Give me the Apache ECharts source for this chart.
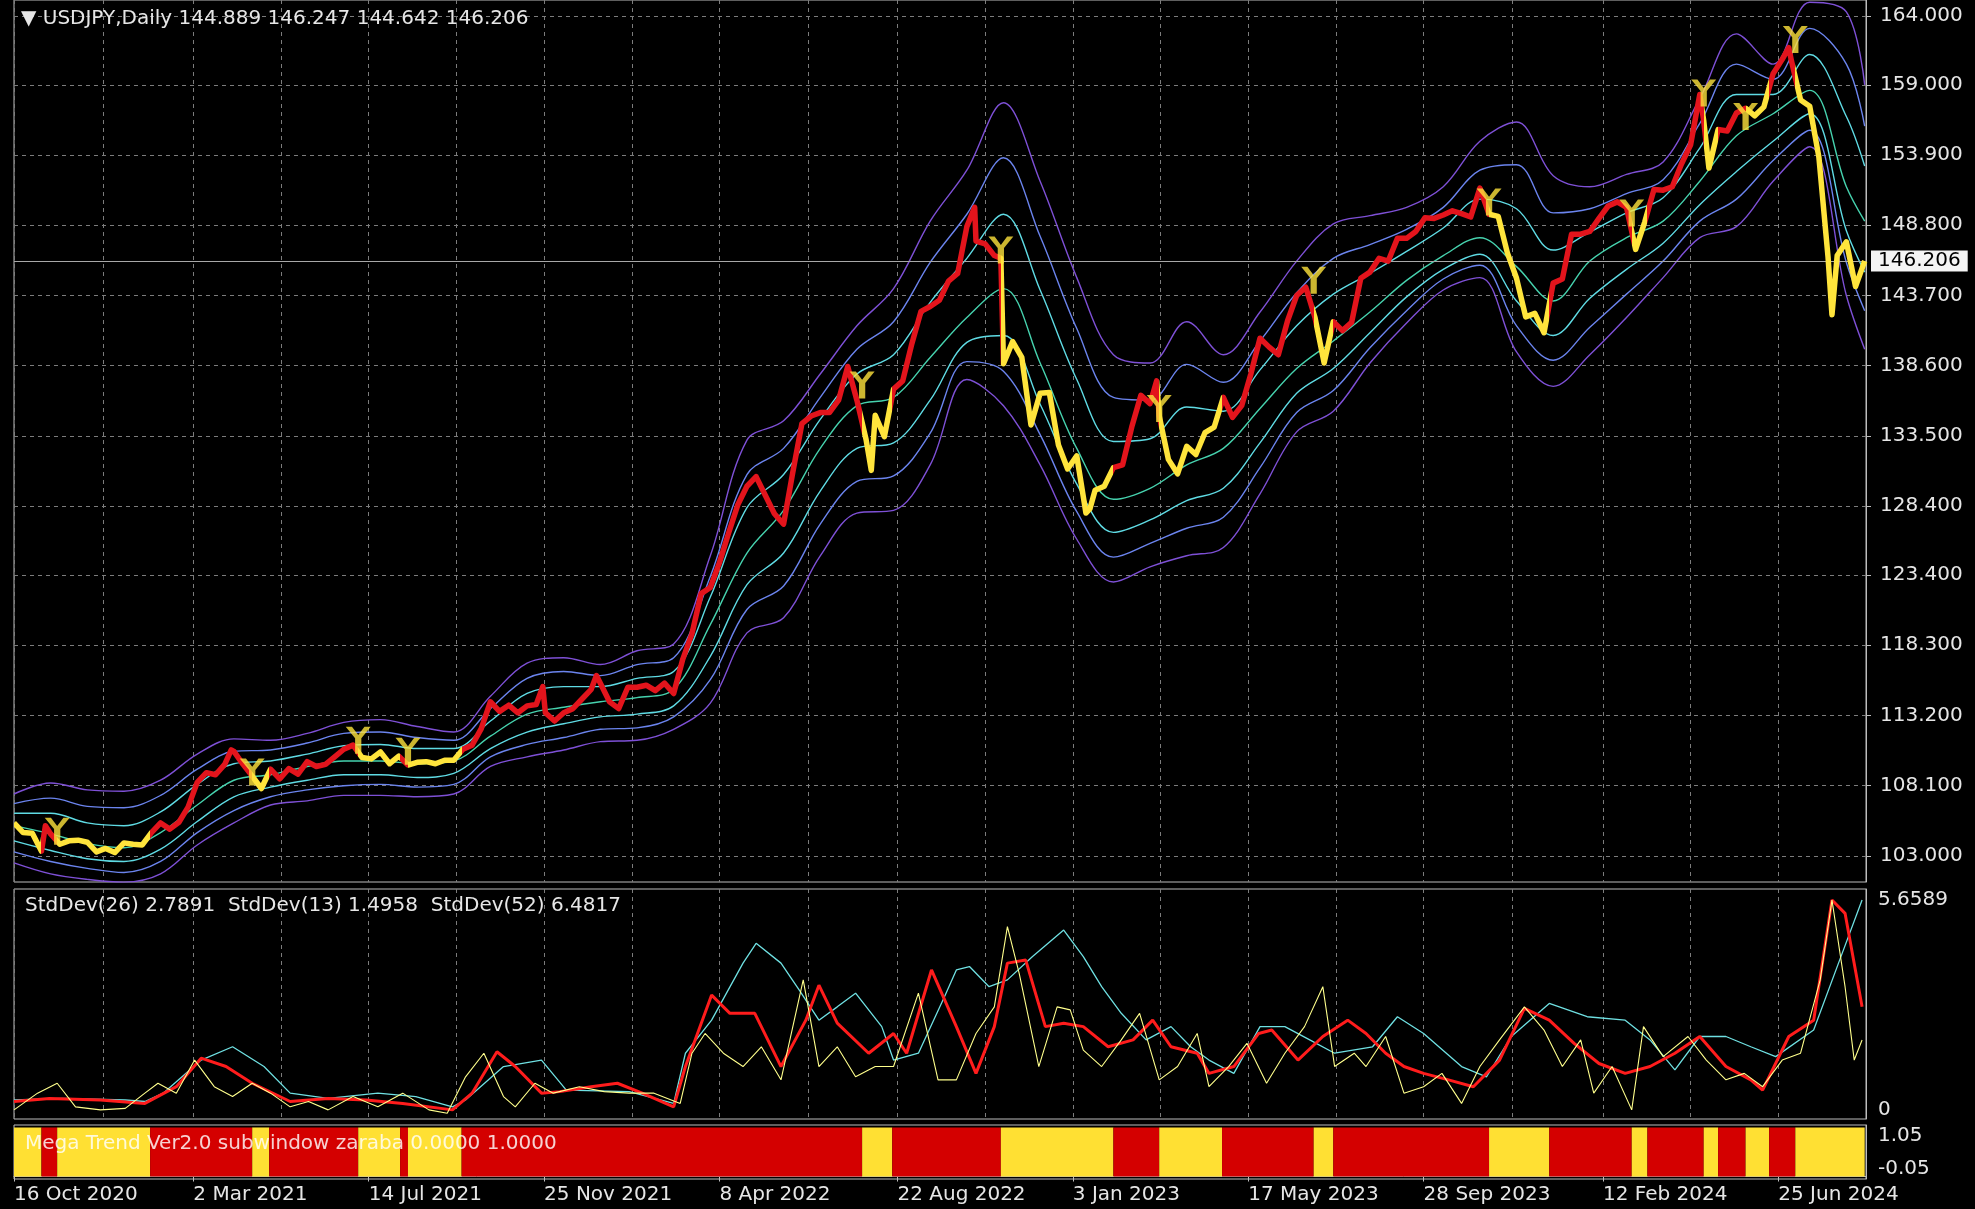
<!DOCTYPE html>
<html><head><meta charset="utf-8">
<script src="https://cdn.jsdelivr.net/npm/echarts@6/dist/echarts.min.js"></script>
<style>html,body{margin:0;padding:0;background:#000;}#c{width:1975px;height:1209px;}</style>
</head><body><div id="c"></div><script>
// ---------- header / labels ----------
const symbolName = 'USDJPY,Daily';
const ohlc = [144.889, 146.247, 144.642, 146.206];
const stdLegend = ['StdDev(26) 2.7891', 'StdDev(13) 1.4958', 'StdDev(52) 6.4817'];
const megaLegend = 'Mega Trend Ver2.0 subwindow zaraba 0.0000 1.0000';
const priceTicks = [103.0, 108.1, 113.2, 118.3, 123.4, 128.4, 133.5, 138.6, 143.7, 148.8, 153.9, 159.0, 164.0];
const stdTicks = [0, 5.6589];
const trendTicks = [1.05, -0.05];
const dateLabels = ['2020-10-16','2021-03-02','2021-07-14','2021-11-25','2022-04-08','2022-08-22','2023-01-03','2023-05-17','2023-09-28','2024-02-12','2024-06-25'];
const gridMidDates = ['2020-12-23','2021-05-08','2021-09-19','2022-01-31','2022-06-15','2022-10-28','2023-03-11','2023-07-23','2023-12-05','2024-04-19'];

// ---------- trend segments (1 = up / red, 0 = down / yellow) ----------
const trendSegments = [
 ['2020-10-16','2020-11-06',0],['2020-11-06','2020-11-18',1],['2020-11-18','2021-01-28',0],
 ['2021-01-28','2021-04-16',1],['2021-04-16','2021-04-29',0],['2021-04-29','2021-07-06',1],
 ['2021-07-06','2021-08-07',0],['2021-08-07','2021-08-13',1],['2021-08-13','2021-09-23',0],
 ['2021-09-23','2022-07-26',1],['2022-07-26','2022-08-18',0],['2022-08-18','2022-11-09',1],
 ['2022-11-09','2023-02-03',0],['2023-02-03','2023-03-10',1],['2023-03-10','2023-04-27',0],
 ['2023-04-27','2023-07-06',1],['2023-07-06','2023-07-21',0],['2023-07-21','2023-11-17',1],
 ['2023-11-17','2024-01-02',0],['2024-01-02','2024-03-05',1],['2024-03-05','2024-03-17',0],
 ['2024-03-17','2024-04-29',1],['2024-04-29','2024-05-10',0],['2024-05-10','2024-05-31',1],
 ['2024-05-31','2024-06-18',0],['2024-06-18','2024-07-08',1],['2024-07-08','2024-08-30',0]
];

// ---------- price (weekly closes + a few key days) ----------
const priceData = [
 ['2020-10-16',105.40],['2020-10-23',104.70],['2020-10-30',104.65],['2020-11-06',103.35],['2020-11-09',105.20],['2020-11-13',104.60],
 ['2020-11-20',103.85],['2020-11-27',104.10],['2020-12-04',104.15],['2020-12-11',104.00],['2020-12-18',103.30],['2020-12-25',103.55],
 ['2021-01-01',103.25],['2021-01-08',103.95],['2021-01-15',103.85],['2021-01-22',103.80],['2021-01-29',104.70],['2021-02-05',105.40],
 ['2021-02-12',104.95],['2021-02-19',105.45],['2021-02-26',106.55],['2021-03-05',108.35],['2021-03-12',109.05],['2021-03-19',108.90],
 ['2021-03-26',109.65],['2021-03-31',110.70],['2021-04-02',110.60],['2021-04-09',109.65],['2021-04-16',108.80],['2021-04-23',107.90],
 ['2021-04-30',109.30],['2021-05-07',108.60],['2021-05-14',109.35],['2021-05-21',108.95],['2021-05-28',109.85],['2021-06-04',109.50],
 ['2021-06-11',109.65],['2021-06-18',110.20],['2021-06-25',110.75],['2021-07-02',111.05],['2021-07-09',110.15],['2021-07-16',110.05],
 ['2021-07-23',110.55],['2021-07-30',109.70],['2021-08-06',110.25],['2021-08-13',109.60],['2021-08-20',109.80],['2021-08-27',109.85],
 ['2021-09-03',109.70],['2021-09-10',109.95],['2021-09-17',109.95],['2021-09-24',110.75],['2021-10-01',111.05],['2021-10-08',112.25],
 ['2021-10-15',114.20],['2021-10-22',113.50],['2021-10-29',113.95],['2021-11-05',113.40],['2021-11-12',113.90],['2021-11-19',114.00],
 ['2021-11-24',115.30],['2021-11-26',113.40],['2021-12-03',112.80],['2021-12-10',113.40],['2021-12-17',113.70],['2021-12-24',114.40],
 ['2021-12-31',115.10],['2022-01-04',116.10],['2022-01-07',115.55],['2022-01-14',114.20],['2022-01-21',113.70],['2022-01-28',115.25],
 ['2022-02-04',115.25],['2022-02-11',115.40],['2022-02-18',115.00],['2022-02-25',115.55],['2022-03-04',114.80],['2022-03-11',117.30],
 ['2022-03-18',119.15],['2022-03-25',122.05],['2022-04-01',122.50],['2022-04-08',124.30],['2022-04-15',126.45],['2022-04-22',128.50],
 ['2022-04-29',129.85],['2022-05-06',130.55],['2022-05-13',129.20],['2022-05-20',127.85],['2022-05-27',127.10],['2022-06-03',130.85],
 ['2022-06-10',134.40],['2022-06-17',134.95],['2022-06-24',135.20],['2022-07-01',135.20],['2022-07-08',136.10],['2022-07-15',138.55],
 ['2022-07-22',136.10],['2022-07-29',133.25],['2022-08-02',131.00],['2022-08-05',135.00],['2022-08-12',133.45],['2022-08-19',136.90],
 ['2022-08-26',137.50],['2022-09-02',140.20],['2022-09-09',142.55],['2022-09-16',142.90],['2022-09-23',143.35],['2022-09-30',144.75],
 ['2022-10-07',145.30],['2022-10-14',148.70],['2022-10-20',150.10],['2022-10-21',147.65],['2022-10-28',147.45],['2022-11-04',146.60],
 ['2022-11-09',146.40],['2022-11-11',138.75],['2022-11-18',140.35],['2022-11-25',139.20],['2022-12-02',134.30],['2022-12-09',136.60],
 ['2022-12-16',136.65],['2022-12-23',132.85],['2022-12-30',131.10],['2023-01-06',132.05],['2023-01-13',127.90],['2023-01-16',128.20],
 ['2023-01-20',129.55],['2023-01-27',129.85],['2023-02-03',131.20],['2023-02-10',131.40],['2023-02-17',134.15],['2023-02-24',136.45],
 ['2023-03-03',135.85],['2023-03-08',137.50],['2023-03-10',134.95],['2023-03-17',131.80],['2023-03-24',130.75],['2023-03-31',132.75],
 ['2023-04-07',132.15],['2023-04-14',133.75],['2023-04-21',134.15],['2023-04-28',136.30],['2023-05-05',134.85],['2023-05-12',135.70],
 ['2023-05-19',138.00],['2023-05-26',140.60],['2023-06-02',139.95],['2023-06-09',139.40],['2023-06-16',141.85],['2023-06-23',143.70],
 ['2023-06-30',144.30],['2023-07-07',142.10],['2023-07-14',138.80],['2023-07-21',141.80],['2023-07-28',141.15],['2023-08-04',141.75],
 ['2023-08-11',144.95],['2023-08-18',145.40],['2023-08-25',146.40],['2023-09-01',146.20],['2023-09-08',147.85],['2023-09-15',147.85],
 ['2023-09-22',148.35],['2023-09-29',149.35],['2023-10-06',149.30],['2023-10-13',149.55],['2023-10-20',149.85],['2023-10-27',149.65],
 ['2023-11-03',149.40],['2023-11-10',151.50],['2023-11-17',149.60],['2023-11-24',149.45],['2023-12-01',146.80],['2023-12-08',144.95],
 ['2023-12-15',142.15],['2023-12-22',142.40],['2023-12-29',141.00],['2024-01-05',144.60],['2024-01-12',144.90],['2024-01-19',148.15],
 ['2024-01-26',148.15],['2024-02-02',148.35],['2024-02-09',149.30],['2024-02-16',150.20],['2024-02-23',150.50],['2024-03-01',150.10],
 ['2024-03-08',147.05],['2024-03-15',149.05],['2024-03-22',151.40],['2024-03-29',151.35],['2024-04-05',151.60],['2024-04-12',153.25],
 ['2024-04-19',154.65],['2024-04-26',158.30],['2024-04-29',156.40],['2024-05-03',152.95],['2024-05-10',155.75],['2024-05-17',155.65],
 ['2024-05-24',156.95],['2024-05-31',157.30],['2024-06-07',156.75],['2024-06-14',157.40],['2024-06-21',159.80],['2024-06-28',160.85],
 ['2024-07-03',161.70],['2024-07-05',160.75],['2024-07-12',157.90],['2024-07-19',157.45],['2024-07-26',153.75],['2024-08-02',146.50],
 ['2024-08-05',142.30],['2024-08-09',146.60],['2024-08-16',147.60],['2024-08-23',144.35],['2024-08-30',146.21]
];

// trend-change arrows [date, price]
const signalArrows = [
 ['2020-11-18',104.8],['2021-04-16',109.1],['2021-07-06',111.4],['2021-08-13',110.6],['2022-07-26',137.2],
 ['2022-11-09',147.0],['2023-03-10',135.5],['2023-07-06',144.8],['2023-11-17',150.5],['2024-03-05',149.7],
 ['2024-04-29',158.4],['2024-05-31',156.7],['2024-07-08',162.3]
];

// ---------- envelope bands (sampled every 4 weeks) ----------
const bandDates = ['2020-10-16','2020-11-13','2020-12-11','2021-01-08','2021-02-05','2021-03-05','2021-04-02','2021-04-30','2021-05-28','2021-06-25',
 '2021-07-23','2021-08-20','2021-09-17','2021-10-15','2021-11-12','2021-12-10','2022-01-07','2022-02-04','2022-03-04','2022-04-01',
 '2022-04-29','2022-05-27','2022-06-24','2022-07-22','2022-08-19','2022-09-16','2022-10-14','2022-11-11','2022-12-09','2023-01-06',
 '2023-02-03','2023-03-03','2023-03-31','2023-04-28','2023-05-26','2023-06-23','2023-07-21','2023-08-18','2023-09-15','2023-10-13',
 '2023-11-10','2023-12-08','2024-01-05','2024-02-02','2024-03-01','2024-03-29','2024-04-26','2024-05-24','2024-06-21','2024-07-19',
 '2024-08-16','2024-08-30'];
const bandUp3 = [107.5,108.3,107.8,107.7,108.5,110.4,111.5,111.4,111.9,112.7,112.9,112.4,112.0,114.6,117.0,117.4,116.9,117.9,118.4,124.8,
 133.2,134.6,138.0,141.5,144.2,149.1,152.8,157.7,152.0,145.0,139.4,138.8,141.8,139.4,142.5,146.2,148.9,149.5,150.1,151.6,
 154.9,156.3,152.4,151.6,152.5,153.4,158.0,162.7,160.5,165.0,164.3,159.0];
const bandUp2 = [106.8,107.2,106.6,106.5,107.4,109.3,110.6,110.7,111.2,111.9,112.0,111.6,111.4,113.7,115.9,116.4,116.1,116.9,117.4,123.3,
 130.7,132.6,136.3,139.8,141.8,146.1,149.6,153.7,148.0,141.3,136.3,136.1,138.7,137.4,140.4,143.9,146.4,147.4,148.5,150.1,
 152.8,153.2,149.7,150.0,151.1,152.1,156.2,160.5,159.4,163.1,160.5,156.0];
const bandUp1 = [106.1,106.1,105.4,105.2,106.2,108.2,109.7,109.9,110.4,111.0,111.1,110.8,110.8,112.8,114.8,115.3,115.3,115.9,116.4,121.8,
 128.3,130.7,134.7,138.0,139.4,143.2,146.4,149.6,144.1,137.6,133.1,133.3,135.6,135.3,138.3,141.5,143.8,145.3,146.9,148.6,
 150.7,150.0,147.0,148.3,149.7,150.8,154.4,158.3,158.3,161.2,156.7,153.1];
const bandMid = [105.2,104.6,103.9,103.6,104.7,106.7,108.5,108.9,109.5,109.9,109.9,109.7,109.9,111.7,113.3,113.8,114.2,114.5,115.1,119.8,
 125.0,128.1,132.6,135.7,136.3,139.2,142.1,144.2,138.8,132.6,128.9,129.7,131.4,132.6,135.5,138.4,140.4,142.5,144.8,146.6,
 147.9,145.8,143.3,146.2,147.9,149.1,152.0,155.3,156.9,158.6,151.6,149.1];
const bandLo1 = [104.1,103.4,102.8,102.6,103.5,105.5,107.3,108.0,108.5,108.9,108.9,108.7,109.0,110.8,112.0,112.6,113.1,113.3,113.9,117.5,
 122.7,125.0,129.5,132.6,133.0,136.1,140.3,140.8,135.8,130.0,126.5,127.4,128.8,129.7,133.0,136.6,138.4,141.0,143.6,145.6,
 146.7,143.3,140.8,143.5,145.6,147.5,150.3,152.7,154.9,156.9,148.4,145.4];
const bandLo2 = [103.3,102.6,102.1,101.8,102.6,104.7,106.3,107.3,107.8,108.1,108.2,108.0,108.2,110.2,111.1,111.6,112.2,112.3,113.1,115.8,
 120.9,122.6,127.1,130.2,130.6,133.7,138.9,138.2,133.6,128.0,124.7,125.7,126.8,127.6,131.2,135.2,136.8,139.9,142.6,144.9,
 145.9,141.5,139.0,141.4,143.8,146.2,149.1,150.7,153.5,155.7,146.1,142.6];
const bandLo3 = [102.5,101.7,101.3,101.1,101.7,103.8,105.4,106.7,107.0,107.4,107.4,107.3,107.5,109.5,110.2,110.7,111.3,111.4,112.2,114.1,
 119.2,120.3,124.8,127.9,128.1,131.4,137.6,135.7,131.4,126.0,122.9,124.0,124.8,125.4,129.3,133.8,135.3,138.8,141.7,144.1,
 145.0,139.6,137.1,139.4,142.1,145.0,147.9,148.7,152.0,154.5,143.7,139.8];

// ---------- standard deviations ----------
const std13 = [
 ['2020-10-16',0.14],['2020-11-03',0.58],['2020-11-18',0.84],['2020-12-02',0.22],['2020-12-21',0.14],['2021-01-09',0.18],['2021-01-24',0.58],
 ['2021-02-03',0.84],['2021-02-17',0.58],['2021-03-03',1.45],['2021-03-18',0.75],['2021-04-01',0.49],['2021-04-16',0.84],['2021-04-30',0.58],
 ['2021-05-15',0.22],['2021-05-29',0.36],['2021-06-13',0.14],['2021-07-02',0.49],['2021-07-21',0.22],['2021-08-09',0.58],['2021-08-29',0.14],
 ['2021-09-12',0.05],['2021-09-26',1.01],['2021-10-10',1.63],['2021-10-25',0.49],['2021-11-03',0.22],['2021-11-18',0.84],['2021-12-02',0.58],
 ['2021-12-22',0.75],['2022-01-10',0.62],['2022-01-29',0.58],['2022-02-17',0.58],['2022-03-09',0.31],['2022-03-18',1.63],['2022-03-28',2.15],
 ['2022-04-11',1.63],['2022-04-26',1.28],['2022-05-10',1.80],['2022-05-25',0.93],['2022-06-11',3.56],['2022-06-23',1.28],['2022-07-07',1.80],
 ['2022-07-21',1.01],['2022-08-05',1.28],['2022-08-19',1.28],['2022-09-07',3.21],['2022-09-22',0.93],['2022-10-06',0.93],['2022-10-21',2.15],
 ['2022-11-04',2.85],['2022-11-14',4.96],['2022-11-23',3.73],['2022-12-08',1.28],['2022-12-22',2.85],['2023-01-01',2.77],['2023-01-11',1.71],
 ['2023-01-25',1.28],['2023-02-09',1.98],['2023-02-23',2.68],['2023-03-10',0.93],['2023-03-24',1.28],['2023-04-08',2.15],['2023-04-17',0.75],
 ['2023-05-02',1.28],['2023-05-16',1.89],['2023-05-31',0.84],['2023-06-14',1.63],['2023-06-29',2.33],['2023-07-13',3.38],['2023-07-22',1.28],
 ['2023-08-06',1.63],['2023-08-15',1.28],['2023-08-30',2.07],['2023-09-13',0.58],['2023-09-28',0.75],['2023-10-12',1.10],['2023-10-27',0.31],
 ['2023-11-10',1.28],['2023-11-25',1.98],['2023-12-14',2.85],['2023-12-29',2.24],['2024-01-12',1.28],['2024-01-26',1.98],['2024-02-05',0.58],
 ['2024-02-19',1.28],['2024-03-05',0.14],['2024-03-14',2.33],['2024-03-29',1.54],['2024-04-17',2.07],['2024-05-01',1.45],['2024-05-16',0.93],
 ['2024-05-30',1.10],['2024-06-13',0.75],['2024-06-28',1.45],['2024-07-12',1.63],['2024-07-27',3.56],['2024-08-05',5.66],['2024-08-15',3.38],
 ['2024-08-22',1.45],['2024-08-28',1.98]
];
const std26 = [
 ['2020-10-16',0.36],['2020-11-12',0.44],['2020-12-21',0.40],['2021-01-24',0.31],['2021-02-17',0.75],['2021-03-08',1.50],['2021-03-27',1.28],
 ['2021-04-16',0.84],['2021-05-15',0.36],['2021-06-13',0.44],['2021-07-12',0.40],['2021-08-09',0.31],['2021-09-16',0.14],['2021-10-01',0.58],
 ['2021-10-20',1.67],['2021-11-03',1.28],['2021-11-23',0.58],['2021-12-07',0.62],['2021-12-31',0.75],['2022-01-20',0.84],['2022-02-08',0.58],
 ['2022-03-04',0.22],['2022-03-13',1.28],['2022-04-02',3.16],['2022-04-16',2.68],['2022-05-05',2.68],['2022-05-25',1.28],['2022-06-13',2.50],
 ['2022-06-23',3.42],['2022-07-07',2.42],['2022-07-31',1.63],['2022-08-19',2.15],['2022-08-29',1.63],['2022-09-17',3.82],['2022-10-06',2.33],
 ['2022-10-21',1.10],['2022-11-04',2.33],['2022-11-14',4.00],['2022-11-28',4.08],['2022-12-13',2.33],['2022-12-27',2.42],['2023-01-11',2.33],
 ['2023-01-30',1.80],['2023-02-18',1.98],['2023-03-05',2.50],['2023-03-19',1.80],['2023-04-08',1.63],['2023-04-17',1.10],['2023-05-06',1.28],
 ['2023-05-25',2.15],['2023-06-04',2.24],['2023-06-24',1.45],['2023-07-13',2.07],['2023-08-01',2.50],['2023-08-15',2.15],['2023-08-30',1.63],
 ['2023-09-13',1.28],['2023-09-28',1.10],['2023-10-17',0.93],['2023-11-05',0.75],['2023-11-25',1.45],['2023-12-14',2.81],['2024-01-02',2.50],
 ['2024-01-21',1.89],['2024-02-09',1.36],['2024-02-29',1.10],['2024-03-19',1.28],['2024-04-07',1.63],['2024-04-26',2.07],['2024-05-16',1.28],
 ['2024-06-04',0.93],['2024-06-13',0.66],['2024-07-03',2.07],['2024-07-22',2.50],['2024-08-05',5.66],['2024-08-15',5.31],['2024-08-28',2.85]
];
const std52 = [
 ['2020-10-16',0.40],['2020-11-22',0.44],['2021-01-09',0.40],['2021-01-24',0.36],['2021-02-07',0.58],['2021-03-08',1.45],['2021-04-01',1.80],
 ['2021-04-25',1.28],['2021-05-15',0.58],['2021-06-13',0.44],['2021-07-21',0.58],['2021-08-19',0.49],['2021-09-16',0.22],['2021-09-26',0.40],
 ['2021-10-25',1.28],['2021-11-23',1.45],['2021-12-12',0.66],['2022-01-29',0.62],['2022-03-04',0.31],['2022-03-13',1.63],['2022-04-02',2.50],
 ['2022-04-26',4.00],['2022-05-06',4.52],['2022-05-25',4.00],['2022-06-08',3.29],['2022-06-23',2.50],['2022-07-07',2.85],['2022-07-21',3.21],
 ['2022-08-10',2.33],['2022-08-19',1.45],['2022-09-07',1.63],['2022-09-27',3.12],['2022-10-06',3.82],['2022-10-16',3.91],['2022-10-31',3.38],
 ['2022-11-14',3.56],['2022-12-03',4.17],['2022-12-27',4.87],['2023-01-11',4.17],['2023-01-25',3.38],['2023-02-09',2.68],['2023-02-28',1.98],
 ['2023-03-19',2.33],['2023-04-03',1.80],['2023-04-17',1.45],['2023-05-06',1.10],['2023-05-26',2.33],['2023-06-14',2.33],['2023-07-03',1.98],
 ['2023-07-22',1.63],['2023-08-20',1.80],['2023-09-08',2.59],['2023-09-28',2.15],['2023-10-27',1.28],['2023-11-15',1.01],['2023-12-04',2.07],
 ['2024-01-02',2.94],['2024-01-31',2.59],['2024-02-29',2.50],['2024-03-19',1.98],['2024-04-07',1.19],['2024-04-26',2.07],['2024-05-16',2.07],
 ['2024-06-04',1.80],['2024-06-23',1.54],['2024-07-22',2.24],['2024-08-10',4.00],['2024-08-28',5.66]
];

// ---------- styling ----------
const RED = '#e3141c', YEL = '#ffe43c', BAR_RED = '#d40000', BAR_YEL = '#ffe033';
const C_PURPLE = '#7e50d6', C_BLUE = '#6b84ee', C_CYAN = '#5fdbe4', C_MID = '#46d2ae';
const FONT = 'DejaVu Sans';
const FS = 20;
const TXT = '#e6e6e6';
const GRID_DASH = {color: '#7c7c7c', type: [4, 4], width: 1};
const FRAME = '#bdbdbd';

const ts = s => new Date(s + 'T00:00:00').getTime();
const MONTHS = ['Jan','Feb','Mar','Apr','May','Jun','Jul','Aug','Sep','Oct','Nov','Dec'];
const fmtDate = v => { const d = new Date(v); return d.getDate() + ' ' + MONTHS[d.getMonth()] + ' ' + d.getFullYear(); };
const xMin = ts('2020-10-16'), xMax = ts('2024-08-31');
const allGridDates = dateLabels.concat(gridMidDates).map(ts).sort((a, b) => a - b);

const chart = echarts.init(document.getElementById('c'), null, {renderer: 'canvas'});

const gridBase = {left: 14, right: 109, show: true, borderColor: FRAME, borderWidth: 1, backgroundColor: 'transparent'};
function bandSeries(arr, color) {
  return {type: 'line', xAxisIndex: 0, yAxisIndex: 0, showSymbol: false, smooth: 0.35, silent: true,
    lineStyle: {color: color, width: 1.4}, data: bandDates.map((d, i) => [ts(d), arr[i]]), z: 2};
}
function stdSeries(arr, color, width) {
  return {type: 'line', xAxisIndex: 1, yAxisIndex: 1, showSymbol: false, silent: true,
    lineStyle: {color: color, width: width}, data: arr.map(p => [ts(p[0]), p[1]])};
}
const xCommon = {type: 'value', min: xMin, max: xMax, axisLine: {show: false},
  axisTick: {show: false, customValues: allGridDates}, axisLabel: {show: false},
  splitLine: {show: true, lineStyle: GRID_DASH}};
const txtStyle = {color: TXT, fontFamily: FONT, fontSize: FS, fontWeight: 'normal'};

const lastIdx = trendSegments.length - 1;
const option = {
  backgroundColor: '#000',
  animation: false,
  title: [
    {text: '▼ ' + symbolName + ' ' + ohlc.map(v => v.toFixed(3)).join(' '), left: 16, top: 4, textStyle: txtStyle},
    {text: stdLegend.join('  '), left: 20, top: 891, textStyle: txtStyle},
    {text: megaLegend, left: 20, top: 1129,
     textStyle: Object.assign({}, txtStyle, {color: 'rgba(255,255,255,0.82)'})}
  ],
  grid: [
    Object.assign({top: 0, height: 882}, gridBase),
    Object.assign({top: 889, height: 230}, gridBase),
    Object.assign({top: 1125, height: 54}, gridBase)
  ],
  xAxis: [
    Object.assign({gridIndex: 0}, xCommon),
    Object.assign({gridIndex: 1}, xCommon),
    {gridIndex: 2, type: 'value', min: xMin, max: xMax,
     axisLine: {show: true, lineStyle: {color: FRAME}},
     axisTick: {show: true, length: 5, customValues: dateLabels.map(ts), lineStyle: {color: FRAME}},
     axisLabel: {show: true, customValues: dateLabels.map(ts), formatter: fmtDate, align: 'left', margin: 6,
       color: TXT, fontFamily: FONT, fontSize: FS, hideOverlap: false},
     splitLine: {show: false}}
  ],
  yAxis: [
    {gridIndex: 0, type: 'value', position: 'right', min: 101.11, max: 165.16,
     axisLine: {show: true, lineStyle: {color: FRAME}},
     axisTick: {show: true, length: 5, customValues: priceTicks, lineStyle: {color: FRAME}},
     axisLabel: {customValues: priceTicks, formatter: v => v.toFixed(3), margin: 14,
       color: TXT, fontFamily: FONT, fontSize: FS},
     splitLine: {show: true, lineStyle: GRID_DASH}},
    {gridIndex: 1, type: 'value', position: 'right', min: -0.1, max: 5.95,
     axisLine: {show: true, lineStyle: {color: FRAME}},
     axisTick: {show: false, customValues: stdTicks},
     axisLabel: {customValues: stdTicks, margin: 12, color: TXT, fontFamily: FONT, fontSize: FS,
       formatter: v => v === 0 ? '{b|0}' : '{t|' + v.toFixed(4) + '}',
       rich: {b: {padding: [0, 0, 10, 0], color: TXT, fontFamily: FONT, fontSize: FS},
              t: {padding: [0, 0, 0, 0], color: TXT, fontFamily: FONT, fontSize: FS}}},
     splitLine: {show: false}},
    {gridIndex: 2, type: 'value', position: 'right', min: -0.05, max: 1.05,
     axisLine: {show: true, lineStyle: {color: FRAME}},
     axisTick: {show: false, customValues: trendTicks},
     axisLabel: {customValues: trendTicks, margin: 12, color: TXT, fontFamily: FONT, fontSize: FS,
       formatter: v => v > 0.5 ? '{t|' + v.toFixed(2) + '}' : '{b|' + v.toFixed(2) + '}',
       rich: {t: {padding: [22, 0, 0, 0], color: TXT, fontFamily: FONT, fontSize: FS},
              b: {padding: [0, 0, 20, 0], color: TXT, fontFamily: FONT, fontSize: FS}}},
     splitLine: {show: false}}
  ],
  visualMap: [{
    show: false, type: 'piecewise', seriesIndex: 7, dimension: 0,
    pieces: trendSegments.map((s, i) => ({gte: ts(s[0]), lt: ts(s[1]) + (i === lastIdx ? 86400000 * 3 : 0),
      color: s[2] ? RED : YEL}))
  }],
  series: [
    bandSeries(bandUp3, C_PURPLE),
    bandSeries(bandUp2, C_BLUE),
    bandSeries(bandUp1, C_CYAN),
    bandSeries(bandMid, C_MID),
    bandSeries(bandLo1, C_CYAN),
    bandSeries(bandLo2, C_BLUE),
    bandSeries(bandLo3, C_PURPLE),
    {type: 'line', name: 'price', xAxisIndex: 0, yAxisIndex: 0, showSymbol: false, silent: true, z: 5,
     lineStyle: {width: 5.5, join: 'round'},
     data: priceData.map(p => [ts(p[0]), p[1]]),
     markLine: {silent: true, symbol: 'none', animation: false,
       lineStyle: {color: '#a8a8a8', type: 'solid', width: 1},
       label: {show: true, position: 'end', distance: 5, formatter: ohlc[3].toFixed(3), color: '#000',
         backgroundColor: '#f4f4f4', padding: [1, 7, 0, 7], fontFamily: FONT, fontSize: FS},
       data: [{yAxis: ohlc[3]}]}},
    {type: 'scatter', xAxisIndex: 0, yAxisIndex: 0, silent: true, z: 6,
     symbol: 'path://M0,0 L6,0 L12,8 L18,0 L24,0 L15,11 L15,26 L9,26 L9,11 Z', symbolSize: [25, 27],
     symbolKeepAspect: false,
     itemStyle: {color: YEL}, data: signalArrows.map(p => [ts(p[0]), p[1]])},
    stdSeries(std52, '#6fe0e2', 1.3),
    stdSeries(std26, '#ff1c1c', 3),
    stdSeries(std13, '#ffff8c', 1.1),
    {type: 'custom', xAxisIndex: 2, yAxisIndex: 2, silent: true,
     data: trendSegments.map(s => [ts(s[0]), ts(s[1]), s[2]]),
     encode: {x: [0, 1], y: 2},
     renderItem: (params, api) => {
       const a = api.coord([api.value(0), 1]);
       const b = api.coord([api.value(1), 0]);
       return {type: 'rect', shape: {x: a[0], y: a[1], width: b[0] - a[0], height: b[1] - a[1]},
         style: {fill: api.value(2) ? BAR_RED : BAR_YEL}};
     }}
  ]
};
chart.setOption(option);
</script></body></html>
